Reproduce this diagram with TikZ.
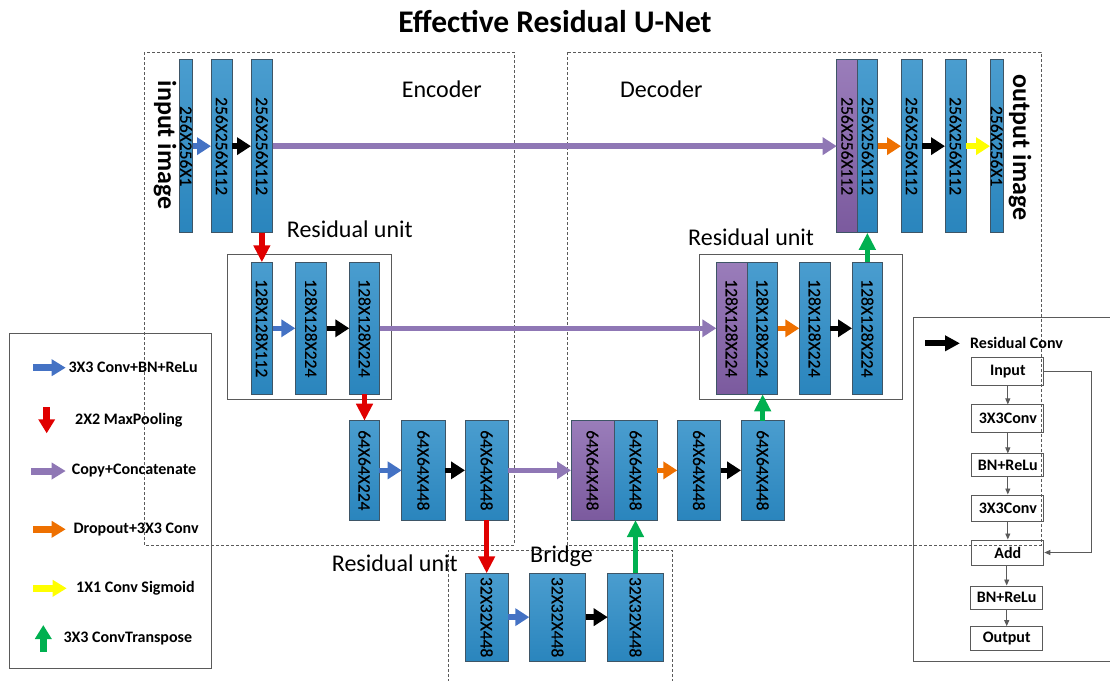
\documentclass[tikz,border=0pt]{standalone}
\usepackage{fontspec}
\setmainfont{Carlito}
\newfontface\lblfont{Carlito}[FakeBold=0.4]
\usetikzlibrary{arrows.meta}

\definecolor{blkTop}{HTML}{4A9DCF}
\definecolor{blkBot}{HTML}{2A85BD}
\definecolor{blkEdge}{HTML}{3E5566}
\definecolor{catTop}{HTML}{9A7DBA}
\definecolor{catBot}{HTML}{7B5A9E}
\definecolor{cBlue}{HTML}{4472C4}
\definecolor{cPurple}{HTML}{8F77B5}
\definecolor{cOrange}{HTML}{EE7000}
\definecolor{cYellow}{HTML}{FFFF00}
\definecolor{cGreen}{HTML}{00B050}
\definecolor{cRed}{HTML}{E00000}
\definecolor{frameGray}{HTML}{5A5A5A}

\tikzset{
  fmap/.style={draw=blkEdge, line width=0.9pt, top color=blkTop, bottom color=blkBot, inner sep=0pt, outer sep=0pt},
  cmap/.style={draw=blkEdge, line width=0.9pt, top color=catTop, bottom color=catBot, inner sep=0pt, outer sep=0pt},
  lbl/.style={rotate=-90, inner sep=0pt, font=\lblfont\fontsize{17.5}{20}\selectfont},
  flow/.style={line width=5.5pt, -{Triangle[length=14pt,width=17pt]}},
  vflow/.style={line width=5.5pt, -{Triangle[length=17pt,width=16pt]}},
  keyarrow/.style={line width=7pt, -{Triangle[length=14pt,width=16pt]}},
  region/.style={draw=frameGray, line width=0.8pt, dash pattern=on 3pt off 2pt},
  unitbox/.style={draw=frameGray, line width=1pt},
  caption/.style={font=\fontsize{24}{28}\selectfont, inner sep=0pt},
  sidetitle/.style={rotate=-90, font=\bfseries\fontsize{26}{30}\selectfont, inner sep=0pt},
  keytext/.style={anchor=west, inner sep=0pt, font=\bfseries\fontsize{16}{19}\selectfont},
  stepbox/.style={draw=frameGray, line width=1pt, minimum width=72pt, inner sep=0pt, font=\bfseries\fontsize{16}{19}\selectfont},
  thin/.style={draw=frameGray, line width=0.9pt, -{Triangle[length=6pt,width=5pt]}},
}

% block: style, name, x, y (top-left), width, height, text
\newcommand\ublock[7]{%
  \node[#1, minimum width=#5pt, minimum height=#6pt, anchor=north west] (#2) at (#3,#4) {};
  \node[lbl] (#2-t) at (#2.center) {#7};}

\begin{document}
\begin{tikzpicture}[x=1pt, y=-1pt]
\useasboundingbox (0,0) rectangle (1110,680);

% title
\node[anchor=base, inner sep=0pt, font=\bfseries\fontsize{31.5}{36}\selectfont] (title) at (555,32) {Effective Residual U-Net};

% dashed regions
\draw[region] (144,52) rectangle (514,545);
\draw[region] (567,52) rectangle (1041,545);
\draw[region] (448,682) -- (448,550) -- (672,550) -- (672,682);

% residual unit frames
\draw[unitbox] (227,254) rectangle (391,399);
\draw[unitbox] (699,254) rectangle (902,399);

% captions
\node[caption, anchor=base west] (enc) at (401.7,97.3) {Encoder};
\node[caption, anchor=base west] (dec) at (620,97.3) {Decoder};
\node[caption, anchor=base west] (ru1) at (286.7,237.7) {Residual unit};
\node[caption, anchor=base west] (ru2) at (688,245) {Residual unit};
\node[caption, anchor=base west] (ru3) at (331.7,571) {Residual unit};
\node[caption, anchor=base west] (brg) at (530,562.7) {Bridge};
\node[sidetitle] (inimg) at (165,145) {input image};
\node[sidetitle] (outimg) at (1020,147.5) {output image};

% level 1 (256)
\ublock{fmap}{e11}{179.3}{59.5}{13.4}{173.3}{256X256X1}
\ublock{fmap}{e12}{211}{59.5}{21.3}{173.3}{256X256X112}
\ublock{fmap}{e13}{251}{59.5}{21.7}{173.3}{256X256X112}
\ublock{cmap}{d1p}{836.7}{59.5}{21}{173.3}{256X256X112}
\ublock{fmap}{d1b}{857.7}{59.5}{20}{173.3}{256X256X112}
\ublock{fmap}{d12}{901}{59.5}{21.3}{173.3}{256X256X112}
\ublock{fmap}{d13}{945}{59.5}{21}{173.3}{256X256X112}
\ublock{fmap}{d14}{990}{59.5}{13.3}{173.3}{256X256X1}

% level 2 (128)
\ublock{fmap}{e21}{251}{262.3}{21.7}{132}{128X128X112}
\ublock{fmap}{e22}{295.3}{262.3}{31.4}{132}{128X128X224}
\ublock{fmap}{e23}{349.3}{262.3}{30.4}{132}{128X128X224}
\ublock{cmap}{d2p}{716.3}{262.3}{30.7}{132}{128X128X224}
\ublock{fmap}{d2b}{747}{262.3}{30.7}{132}{128X128X224}
\ublock{fmap}{d22}{799.3}{262.3}{30.7}{132}{128X128X224}
\ublock{fmap}{d23}{852}{262.3}{30.7}{132}{128X128X224}

% level 3 (64)
\ublock{fmap}{e31}{349.3}{420.7}{30}{99.3}{64X64X224}
\ublock{fmap}{e32}{401.7}{420.7}{43.3}{99.3}{64X64X448}
\ublock{fmap}{e33}{465}{420.7}{43.3}{99.3}{64X64X448}
\ublock{cmap}{d3p}{571}{420.7}{43}{99.3}{64X64X448}
\ublock{fmap}{d3b}{614}{420.7}{43.3}{99.3}{64X64X448}
\ublock{fmap}{d32}{677.3}{420.7}{43.3}{99.3}{64X64X448}
\ublock{fmap}{d33}{741}{420.7}{43.3}{99.3}{64X64X448}

% bridge (32)
\ublock{fmap}{b1}{465}{573.3}{43.3}{87.7}{32X32X448}
\ublock{fmap}{b2}{529.3}{573.3}{56.4}{87.7}{32X32X448}
\ublock{fmap}{b3}{607.7}{573.3}{55.6}{87.7}{32X32X448}

% skip connections
\draw[flow, cPurple] (e13.east) -- (d1p.west);
\draw[flow, cPurple] (e23.east) -- (d2p.west);
\draw[flow, cPurple] (e33.east) -- (d3p.west);

% horizontal operations
\draw[flow, cBlue] (e11.east) -- (e12.west);
\draw[flow, black] (e12.east) -- (e13.west);
\draw[flow, cOrange] (d1b.east) -- (d12.west);
\draw[flow, black] (d12.east) -- (d13.west);
\draw[flow, cYellow] (d13.east) -- (d14.west);

\draw[flow, cBlue] (e21.east) -- (e22.west);
\draw[flow, black] (e22.east) -- (e23.west);
\draw[flow, cOrange] (d2b.east) -- (d22.west);
\draw[flow, black] (d22.east) -- (d23.west);

\draw[flow, cBlue] (e31.east) -- (e32.west);
\draw[flow, black] (e32.east) -- (e33.west);
\draw[flow, cOrange] (d3b.east) -- (d32.west);
\draw[flow, black] (d32.east) -- (d33.west);

\draw[flow, cBlue] (b1.east) -- (b2.west);
\draw[flow, black] (b2.east) -- (b3.west);

% pooling and up-sampling
\draw[vflow, cRed] (e13.south) -- (e13.south |- e21.north);
\draw[vflow, cRed] (e23.south) -- (e23.south |- e31.north);
\draw[vflow, cRed] (e33.south) -- (e33.south |- b1.north);
\draw[vflow, cGreen] (b3.north) -- (b3.north |- d3b.south);
\draw[vflow, cGreen] (d33.north) -- (d33.north |- d2b.south);
\draw[vflow, cGreen] (d23.north) -- (d23.north |- d1b.south);

% key
\draw[unitbox] (9,333) rectangle (211,668);
\node[keytext] (k1) at (68.3,367.7) {3X3 Conv+BN+ReLu};
\node[keytext] (k2) at (75,420) {2X2 MaxPooling};
\node[keytext] (k3) at (71.7,471) {Copy+Concatenate};
\node[keytext] (k4) at (73.3,529.3) {Dropout+3X3 Conv};
\node[keytext] (k5) at (76,588.3) {1X1 Conv Sigmoid};
\node[keytext] (k6) at (63.3,638.3) {3X3 ConvTranspose};
\draw[keyarrow, cBlue] ([xshift=-35.3pt]k1.west) -- ([xshift=-2.6pt]k1.west);
\draw[keyarrow, cRed] ([xshift=-28.3pt,yshift=13pt]k2.west) -- ([xshift=-28.3pt,yshift=-13.3pt]k2.west);
\draw[keyarrow, cPurple] ([xshift=-40.7pt]k3.west) -- ([xshift=-6pt]k3.west);
\draw[keyarrow, cOrange] ([xshift=-40.3pt]k4.west) -- ([xshift=-7.6pt]k4.west);
\draw[keyarrow, cYellow] ([xshift=-43pt]k5.west) -- ([xshift=-9.3pt]k5.west);
\draw[keyarrow, cGreen] ([xshift=-20pt,yshift=-13.4pt]k6.west) -- ([xshift=-20pt,yshift=13.3pt]k6.west);

% residual convolution block
\draw[unitbox] (1112,317) -- (913,317) -- (913,661) -- (1112,661);
\node[keytext] (rc) at (970,343.3) {Residual Conv};
\draw[line width=6pt, -{Triangle[length=15pt,width=15pt]}, black] ([xshift=-45pt]rc.west) -- ([xshift=-10pt]rc.west);
\node[stepbox, minimum height=28pt] (s1) at (1007.8,371.8) {Input};
\node[stepbox, minimum height=27.7pt] (s2) at (1007.8,418.8) {3X3Conv};
\node[stepbox, minimum height=22.7pt] (s3) at (1007.8,465.3) {BN+ReLu};
\node[stepbox, minimum height=26pt] (s4) at (1007.8,508) {3X3Conv};
\node[stepbox, minimum height=25pt] (s5) at (1007.8,552.5) {Add};
\node[stepbox, minimum height=23pt] (s6) at (1006.7,597.5) {BN+ReLu};
\node[stepbox, minimum height=24.3pt] (s7) at (1006.7,638.8) {Output};
\draw[thin] (s1) -- (s2);
\draw[thin] (s2) -- (s3);
\draw[thin] (s3) -- (s4);
\draw[thin] (s4) -- (s5);
\draw[thin] (s5.south -| s6) -- (s6);
\draw[thin] (s6) -- (s7);
\draw[thin] (s1.east) -- ++(47,0) |- (s5.east);
\end{tikzpicture}
\end{document}
